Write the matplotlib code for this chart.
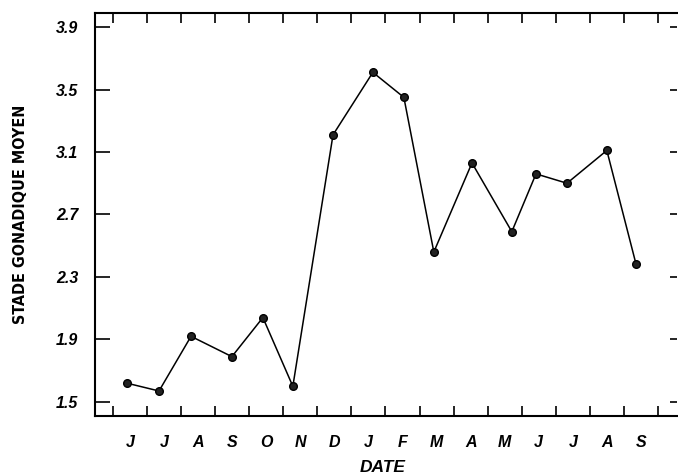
import matplotlib
matplotlib.use("Agg")
import matplotlib.pyplot as plt
from matplotlib.ticker import FixedLocator, NullFormatter, FixedFormatter

# Sampling dates expressed in months from the start of June (0 = 1 June)
sample_months = [0.41, 1.35, 2.29, 3.49, 4.40, 5.28, 6.46, 7.63, 8.54,
                 9.42, 10.54, 11.71, 12.42, 13.33, 14.50, 15.36]
# Mean gonadal stage at each sampling date
mean_stage = [1.62, 1.57, 1.92, 1.79, 2.04, 1.60, 3.21, 3.61, 3.45,
              2.46, 3.03, 2.59, 2.96, 2.90, 3.11, 2.38]

month_labels = ["J", "J", "A", "S", "O", "N", "D", "J", "F",
                "M", "A", "M", "J", "J", "A", "S"]
y_ticks = [1.5, 1.9, 2.3, 2.7, 3.1, 3.5, 3.9]

fig = plt.figure(figsize=(6.78, 4.74), dpi=100)
ax = fig.add_axes([0.1401, 0.1224, 0.8584, 0.8502])

ax.plot(sample_months, mean_stage, color="black", lw=1.1,
        marker="o", ms=5.5, mfc="#222222", mec="black", mew=1.0)

ax.set_xlim(-0.53, 16.56)
ax.set_ylim(1.41, 3.99)

tick_font = dict(family="Liberation Sans", weight="bold", style="italic", size=11.5)

# Month boundaries carry ticks; month letters sit between them
ax.xaxis.set_major_locator(FixedLocator(list(range(len(month_labels) + 1))))
ax.xaxis.set_major_formatter(NullFormatter())
ax.xaxis.set_minor_locator(FixedLocator([i + 0.5 for i in range(len(month_labels))]))
ax.xaxis.set_minor_formatter(FixedFormatter(month_labels))
ax.tick_params(axis="x", which="major", direction="in", length=7, width=1.2,
               top=True, bottom=True)
ax.tick_params(axis="x", which="minor", length=0, pad=14)
for lab in ax.xaxis.get_minorticklabels():
    lab.set(**tick_font)

ax.set_yticks(y_ticks)
ax.set_yticklabels([f"{v:.1f}" for v in y_ticks])
ax.tick_params(axis="y", direction="in", length=11, width=1.2,
               left=True, right=True, pad=12)
for tick in ax.yaxis.get_major_ticks():
    tick.tick2line.set_markersize(5)
for lab in ax.get_yticklabels():
    lab.set(**tick_font)

for side in ("left", "bottom", "top"):
    ax.spines[side].set_linewidth(1.5)
ax.spines["right"].set_visible(False)

fig.text(0.565, 1 - 467 / 474, "DATE", ha="center", va="center",
         family="Liberation Sans", weight="bold", style="italic", size=12.5)
fig.text(0.030, 0.5475, "STADE GONADIQUE MOYEN", rotation=90,
         ha="center", va="center", family="DejaVu Sans",
         stretch="condensed", weight="bold", size=11.5)

fig.savefig("out.png", dpi=100)
